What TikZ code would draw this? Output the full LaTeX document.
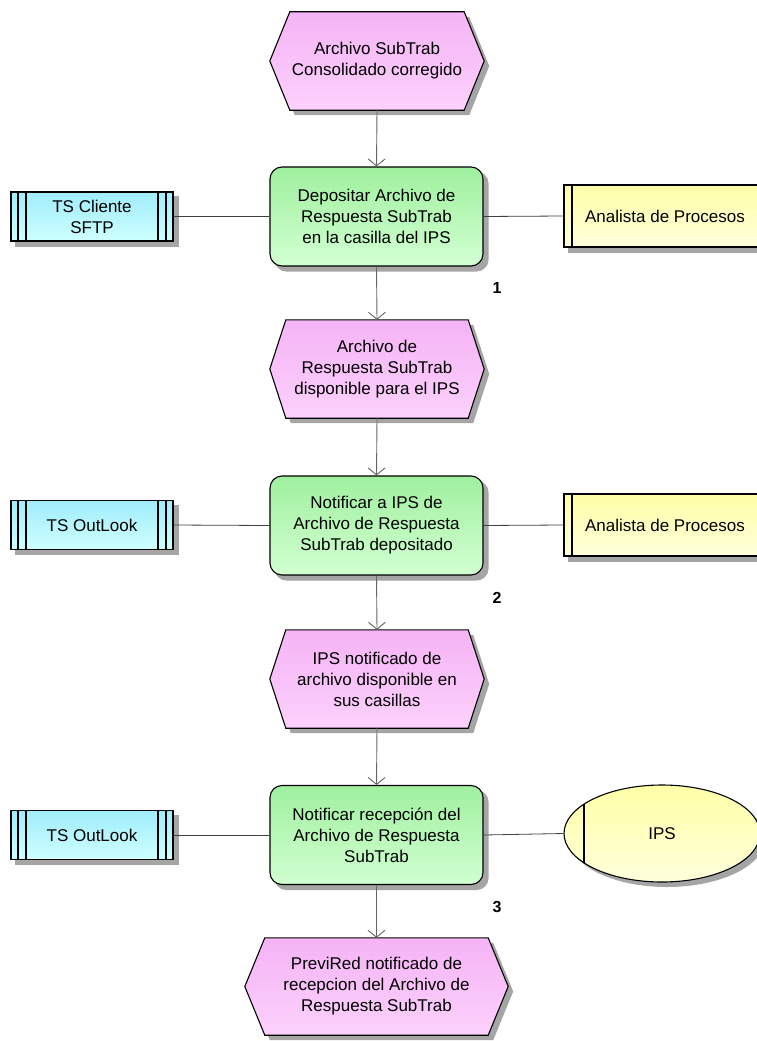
\documentclass[tikz,border=0pt]{standalone}
\usepackage{fontspec}
\setmainfont{Liberation Sans}
\usetikzlibrary{shapes.geometric,arrows.meta,backgrounds,calc}

\definecolor{evtTop}{RGB}{245,180,245}
\definecolor{evtBot}{RGB}{252,208,252}
\definecolor{fnTop}{RGB}{160,240,160}
\definecolor{fnBot}{RGB}{208,255,208}
\definecolor{sysTop}{RGB}{160,236,252}
\definecolor{sysBot}{RGB}{205,255,255}
\definecolor{roleTop}{RGB}{255,255,168}
\definecolor{roleBot}{RGB}{255,255,218}
\definecolor{shadowc}{RGB}{165,165,165}

% vertical colour ramp made of thin plain strips, used inside a path picture
\newcommand\gradstrips[2]{%
  \foreach \gi in {0,...,19}{%
    \pgfmathtruncatemacro\gA{100-\gi*100/19}%
    \pgfmathsetmacro\gB{\gi/20}%
    \pgfmathsetmacro\gC{(\gi+1)/20+0.004}%
    \fill[sharp corners, #1!\gA!#2]
      ($(path picture bounding box.north west)!\gB!(path picture bounding box.south west)$) rectangle
      ($(path picture bounding box.north east)!\gC!(path picture bounding box.south east)$);
  }}

\begin{document}
\begin{tikzpicture}[x=1pt,y=-1pt,
  lbl/.style={font=\fontsize{17}{21}\selectfont, align=center},
  evt/.style={lbl, minimum width=214pt, minimum height=98pt, inner sep=0pt},
  fn/.style={lbl, draw, line width=1.1pt, rounded corners=12pt,
    path picture={\gradstrips{fnTop}{fnBot}},
    minimum width=213pt, minimum height=99pt, inner sep=0pt},
  sysbox/.style={lbl, draw, line width=1.1pt,
    minimum width=162pt, minimum height=49pt, inner sep=0pt,
    path picture={
      \gradstrips{sysTop}{sysBot}
      \foreach \d in {7,15}{
        \draw[line width=1.1pt] ([xshift=\d pt]path picture bounding box.south west) -- ([xshift=\d pt]path picture bounding box.north west);
        \draw[line width=1.1pt] ([xshift=-\d pt]path picture bounding box.south east) -- ([xshift=-\d pt]path picture bounding box.north east);
      }}},
  rolebox/.style={lbl, draw, line width=1.1pt,
    minimum width=202pt, minimum height=62pt, inner sep=0pt,
    path picture={
      \gradstrips{roleTop}{roleBot}
      \draw[line width=1.1pt] ([xshift=8pt]path picture bounding box.south west) -- ([xshift=8pt]path picture bounding box.north west);}},
  actor/.style={lbl, ellipse, draw, line width=1.1pt,
    minimum width=196pt, minimum height=97pt, inner sep=0pt,
    path picture={
      \gradstrips{roleTop}{roleBot}
      \draw[line width=1.1pt] ([xshift=20pt]path picture bounding box.south west) -- ([xshift=20pt]path picture bounding box.north west);}},
  num/.style={font=\fontsize{16}{16}\selectfont\bfseries},
  flow/.style={draw=black!60, line width=0.9pt, -{Straight Barb[length=7pt,width=17pt,line width=0.9pt]}},
  link/.style={draw=black!75, line width=0.8pt},
  % hexagon outline around an event node: #1 node, #2 inset of the side points
  hex/.style 2 args={insert path={(#1.west) -- ($(#1.north west)+(#2,0)$) -- ($(#1.north east)+(-#2,0)$)
      -- (#1.east) -- ($(#1.south east)+(-#2,0)$) -- ($(#1.south west)+(#2,0)$) -- cycle}},
  hexshadow/.style 2 args={insert path={($(#1.west)+(5,5)$) -- ($(#1.north west)+(#2+5,5)$) -- ($(#1.north east)+(5-#2,5)$)
      -- ($(#1.east)+(5,5)$) -- ($(#1.south east)+(5-#2,5)$) -- ($(#1.south west)+(#2+5,5)$) -- cycle}}
]
\useasboundingbox (0,0) rectangle (757,1041);

% events (hexagons are drawn on the background layer below)
\node[evt] (e1) at (377,61)    {Archivo SubTrab\\Consolidado corregido};
\node[evt] (e2) at (377,369)   {Archivo de\\Respuesta SubTrab\\disponible para el IPS};
\node[evt] (e3) at (377,679)   {IPS notificado de\\archivo disponible en\\sus casillas};
\node[evt, minimum width=263pt, minimum height=97pt] (e4) at (376.5,986.5) {PreviRed notificado de\\recepcion del Archivo de\\Respuesta SubTrab};

% functions
\node[fn] (f1) at (376.5,216.5) {Depositar Archivo de\\Respuesta SubTrab\\en la casilla del IPS};
\node[fn] (f2) at (376.5,525.5) {Notificar a IPS de\\Archivo de Respuesta\\SubTrab depositado};
\node[fn] (f3) at (376.5,835)   {Notificar recepción del\\Archivo de Respuesta\\SubTrab};

% systems
\node[sysbox] (s1) at (92,216.5) {TS Cliente\\SFTP};
\node[sysbox] (s2) at (92,525)   {TS OutLook};
\node[sysbox] (s3) at (92,835)   {TS OutLook};

% roles and organisational unit
\node[rolebox] (r1) at (665,216) {Analista de Procesos};
\node[rolebox] (r2) at (665,525) {Analista de Procesos};
\node[actor]   (a3) at (662,833.5) {IPS};

% step numbers
\node[num] (n1) at (497,288) {1};
\node[num] (n2) at (497,598) {2};
\node[num] (n3) at (497,907) {3};

\begin{pgfonlayer}{background}
  \fill[white] (0,0) rectangle (757,1041);
  % drop shadows, 5 units right and 5 units down
  \foreach \n in {s1,s2,s3,r1,r2}
    \fill[shadowc] ($(\n.south west)+(5,5)$) rectangle ($(\n.north east)+(5,5)$);
  \foreach \n in {f1,f2,f3}
    \fill[shadowc, rounded corners=12pt] ($(\n.south west)+(5,5)$) rectangle ($(\n.north east)+(5,5)$);
  \fill[shadowc] ($(a3.center)+(5,5)$) ellipse [x radius=98, y radius=48.5];
  \foreach \n/\d in {e1/20,e2/16,e3/16,e4/20}
    \fill[shadowc, hexshadow={\n}{\d}];
  % event hexagons
  \foreach \n/\d in {e1/20,e2/16,e3/16,e4/20}
    \path[draw, line width=1.1pt, path picture={\gradstrips{evtTop}{evtBot}}, hex={\n}{\d}];
\end{pgfonlayer}

% control flow
\draw[flow] (e1.south) -- (f1.north);
\draw[flow] (f1.south) -- (e2.north);
\draw[flow] (e2.south) -- (f2.north);
\draw[flow] (f2.south) -- (e3.north);
\draw[flow] (e3.south) -- (f3.north);
\draw[flow] (f3.south) -- (e4.north);

% assignments
\draw[link] (s1.east) -- (f1.west);
\draw[link] (f1.east) -- (r1.west);
\draw[link] (s2.east) -- (f2.west);
\draw[link] (f2.east) -- (r2.west);
\draw[link] (s3.east) -- (f3.west);
\draw[link] (f3.east) -- (a3.west);
\end{tikzpicture}
\end{document}
